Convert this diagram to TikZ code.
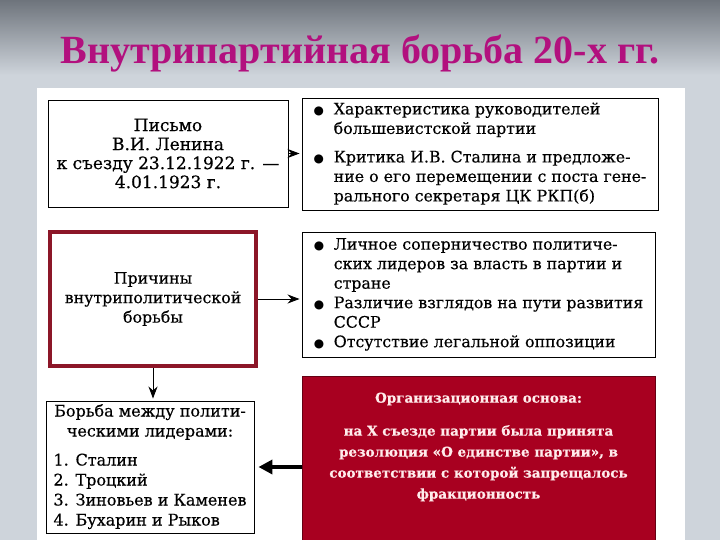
\documentclass[tikz,border=0pt]{standalone}
\usepackage{fontspec}
\setmainfont{DejaVu Serif}[FakeBold=0.4]
\newfontfamily\titlefont{Liberation Serif}
\newfontfamily\symfont{DejaVu Sans}
\usetikzlibrary{arrows.meta}
\definecolor{titlemag}{RGB}{178,16,126}
\definecolor{boxred}{RGB}{168,0,32}
\definecolor{framered}{RGB}{140,22,40}
\definecolor{skytop}{RGB}{110,116,124}
\definecolor{skylow}{RGB}{206,212,219}
\tikzset{
  box/.style={draw=black, line width=0.9pt, fill=white, inner sep=0pt},
  reason/.style={draw=framered, line width=4pt, fill=white, inner sep=0pt},
  basis/.style={draw=boxred!60!black, line width=1pt, fill=boxred},
  link/.style={-{Stealth[length=12pt,width=9pt]}, line width=0.9pt, shorten >=2pt},
  biglink/.style={-{Triangle[length=14pt,width=14pt]}, line width=4.5pt, shorten >=4pt},
  body/.style={font=\fontsize{15.8}{19.5}\selectfont},
}
\newcommand\blt{\scalebox{0.75}{\symfont ●}}

\begin{document}
\begin{tikzpicture}[x=1pt,y=-1pt]
  % background of the slide
  \useasboundingbox (0,0) rectangle (720,540);
  \shade[top color=skytop, bottom color=skylow] (0,0) rectangle (720,75);
  \fill[skylow] (0,75) rectangle (720,540);
  \fill[white] (37,88) rectangle (685,540);

  \node[font=\titlefont\bfseries\fontsize{40}{42}\selectfont, text=titlemag] (title) at (360,54) {Внутрипартийная борьба 20-х гг.};

  % left column
  \node[box, font=\fontsize{17}{19}\selectfont, minimum width=240, minimum height=107, align=center] (letter) at (168,153.5)
    {Письмо\\В.И. Ленина\\к съезду 23.12.1922 г. —\\4.01.1923 г.};
  \node[reason, body, minimum width=206, minimum height=134, align=center] (reasons) at (153,299)
    {Причины\\внутриполитической\\борьбы};
  \node[box, font=\fontsize{16}{20}\selectfont, minimum width=208, minimum height=132] (fight) at (150,467)
    {\begin{tabular}{@{}l@{}}
      \multicolumn{1}{@{}c@{}}{Борьба между полити-}\\
      \multicolumn{1}{@{}c@{}}{ческими лидерами:}\\[9pt]
      1. Сталин\\
      2. Троцкий\\
      3. Зиновьев и Каменев\\
      4. Бухарин и Рыков
    \end{tabular}};

  % right column
  \node[box, body, minimum width=356, minimum height=112] (points) at (480,154)
    {\begin{tabular}{@{}p{20pt}@{}l@{}}
      \blt & Характеристика руководителей\\
           & большевистской партии\\[9pt]
      \blt & Критика И.В. Сталина и предложе-\\
           & ние о его перемещении с поста гене-\\
           & рального секретаря ЦК РКП(б)
    \end{tabular}};
  \node[box, body, minimum width=353, minimum height=125] (causes) at (478.5,294.5)
    {\begin{tabular}{@{}p{20pt}@{}l@{}}
      \blt & Личное соперничество политиче-\\
           & ских лидеров за власть в партии и\\
           & стране\\
      \blt & Различие взглядов на пути развития\\
           & СССР\\
      \blt & Отсутствие легальной оппозиции
    \end{tabular}};
  \node[basis, minimum width=353, minimum height=164] (basis) at (478.5,458) {};
  \node[text=white!92!red, align=center, font=\bfseries\fontsize{13.5}{21}\selectfont] (basistext) at (478.5,447)
    {Организационная основа:\\[12pt]на X съезде партии была принята\\резолюция «О единстве партии», в\\соответствии с которой запрещалось\\фракционность};

  % connectors
  \draw[link] (letter.east) -- (letter.east -| points.west);
  \draw[link] (reasons.east) -- (reasons.east -| causes.west);
  \draw[link] (reasons.south) -- (reasons.south |- fight.north);
  \draw[biglink] (basis.west |- fight.east) -- (fight.east);
\end{tikzpicture}
\end{document}
